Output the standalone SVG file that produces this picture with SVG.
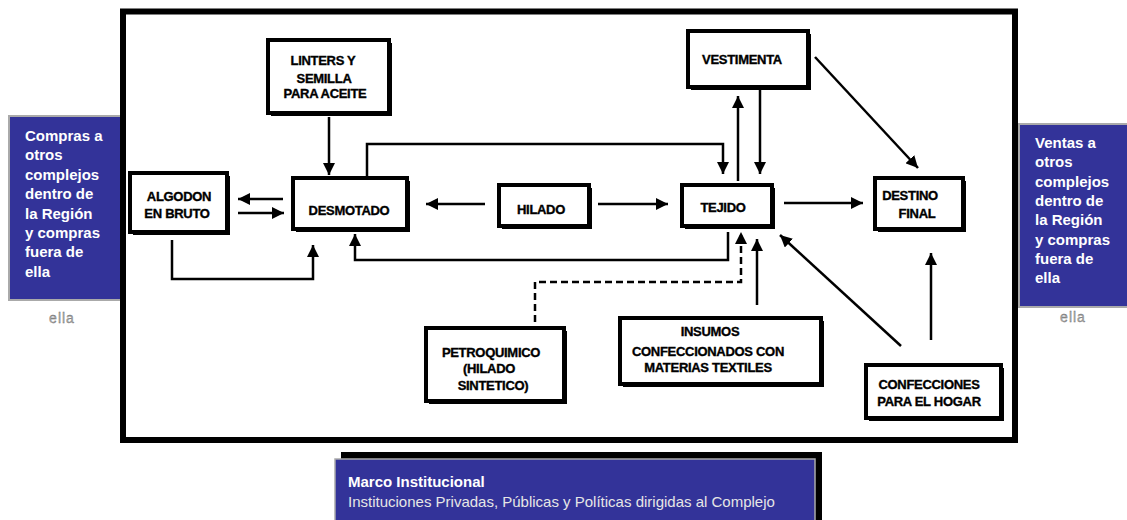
<svg xmlns="http://www.w3.org/2000/svg" width="1127" height="520" viewBox="0 0 1127 520">
<style>
.frame{fill:none;stroke:#000;stroke-width:6}
.sh{fill:#000}
.box{fill:#fff;stroke:#000;stroke-width:4}
.lbl{font-family:"Liberation Sans",Arial,sans-serif;font-weight:bold;font-size:13px;letter-spacing:-0.3px;fill:#000;stroke:#000;stroke-width:0.35;text-anchor:middle}
.side{fill:#333399;stroke:#aaa;stroke-width:2}
.stxt{font-family:"Liberation Sans",Arial,sans-serif;font-weight:bold;font-size:15px;fill:#fff}
.ella{font-family:"Liberation Sans",Arial,sans-serif;font-size:14px;fill:#aaa;stroke:#666;stroke-width:0.3;text-anchor:middle;letter-spacing:1px}
.con{fill:none;stroke:#000;stroke-width:2.5}
.dash{stroke-dasharray:7 4}
</style>
<defs>
<marker id="ah" markerUnits="userSpaceOnUse" viewBox="0 0 12 12" refX="12" refY="6" markerWidth="12" markerHeight="12" orient="auto">
<path d="M0,0 L12,6 L0,12 z" fill="#000"/>
</marker>
</defs>
<rect width="1127" height="520" fill="#fff"/>

<g id="side-left">
<rect class="side" x="9" y="116" width="112" height="184"/>
<text class="stxt" x="25" y="141">Compras a</text>
<text class="stxt" x="25" y="160.4">otros</text>
<text class="stxt" x="25" y="179.8">complejos</text>
<text class="stxt" x="25" y="199.2">dentro de</text>
<text class="stxt" x="25" y="218.6">la Región</text>
<text class="stxt" x="25" y="238">y compras</text>
<text class="stxt" x="25" y="257.4">fuera de</text>
<text class="stxt" x="25" y="276.8">ella</text>
<text class="ella" x="62" y="323">ella</text>
</g>

<g id="side-right">
<rect class="side" x="1019" y="124" width="112" height="183"/>
<text class="stxt" x="1035" y="148">Ventas a</text>
<text class="stxt" x="1035" y="167.3">otros</text>
<text class="stxt" x="1035" y="186.6">complejos</text>
<text class="stxt" x="1035" y="205.9">dentro de</text>
<text class="stxt" x="1035" y="225.2">la Región</text>
<text class="stxt" x="1035" y="244.5">y compras</text>
<text class="stxt" x="1035" y="263.8">fuera de</text>
<text class="stxt" x="1035" y="283.1">ella</text>
<text class="ella" x="1073" y="322">ella</text>
</g>

<g id="frame">
<rect class="frame" x="123" y="11.5" width="892" height="428.5"/>
</g>

<g id="connectors">
<path class="con" d="M329,117 L329,175" marker-end="url(#ah)"/>
<path class="con" d="M367,178 L367,144 L723,144 L723,174" marker-end="url(#ah)"/>
<path class="con" d="M283,199 L238,199" marker-end="url(#ah)"/>
<path class="con" d="M238,213 L284,213" marker-end="url(#ah)"/>
<path class="con" d="M172,240 L172,279 L313,279 L313,245" marker-end="url(#ah)"/>
<path class="con" d="M728,232 L728,260 L355,260 L355,234" marker-end="url(#ah)"/>
<path class="con" d="M485,204 L426,204" marker-end="url(#ah)"/>
<path class="con" d="M598,204 L668,204" marker-end="url(#ah)"/>
<path class="con" d="M738,181 L738,96" marker-end="url(#ah)"/>
<path class="con" d="M760,90 L760,174" marker-end="url(#ah)"/>
<path class="con" d="M815,57 L918,168" marker-end="url(#ah)"/>
<path class="con" d="M784,203 L863,203" marker-end="url(#ah)"/>
<path class="con dash" d="M535,322 L535,282 L741,282 L741,232" marker-end="url(#ah)"/>
<path class="con" d="M757,305 L757,239" marker-end="url(#ah)"/>
<path class="con" d="M901,346 L780,235" marker-end="url(#ah)"/>
<path class="con" d="M931,340 L931,253" marker-end="url(#ah)"/>
</g>

<g id="algodon">
<rect class="sh" x="133" y="176" width="97" height="59"/>
<rect class="box" x="130" y="173" width="97" height="59"/>
<text class="lbl" x="179" y="201">ALGODON</text>
<text class="lbl" x="177" y="218">EN BRUTO</text>
</g>

<g id="desmotado">
<rect class="sh" x="296" y="181" width="114" height="51"/>
<rect class="box" x="293" y="178" width="114" height="51"/>
<text class="lbl" x="349" y="215">DESMOTADO</text>
</g>

<g id="linters">
<rect class="sh" x="271" y="43" width="121" height="73"/>
<rect class="box" x="268" y="40" width="121" height="73"/>
<text class="lbl" x="323" y="65">LINTERS Y</text>
<text class="lbl" x="324" y="83">SEMILLA</text>
<text class="lbl" x="325" y="98">PARA ACEITE</text>
</g>

<g id="hilado">
<rect class="sh" x="502" y="188" width="90" height="41"/>
<rect class="box" x="499" y="185" width="90" height="41"/>
<text class="lbl" x="541" y="214">HILADO</text>
</g>

<g id="tejido">
<rect class="sh" x="685" y="188" width="90" height="41"/>
<rect class="box" x="682" y="185" width="90" height="41"/>
<text class="lbl" x="723" y="212">TEJIDO</text>
</g>

<g id="vestimenta">
<rect class="sh" x="691" y="34" width="120" height="56"/>
<rect class="box" x="688" y="31" width="120" height="56"/>
<text class="lbl" x="742" y="64">VESTIMENTA</text>
</g>

<g id="destino">
<rect class="sh" x="878" y="181" width="88" height="51"/>
<rect class="box" x="875" y="178" width="88" height="51"/>
<text class="lbl" x="910" y="200">DESTINO</text>
<text class="lbl" x="917" y="218">FINAL</text>
</g>

<g id="petroquimico">
<rect class="sh" x="429" y="331" width="138" height="73"/>
<rect class="box" x="426" y="328" width="138" height="73"/>
<text class="lbl" x="491" y="357">PETROQUIMICO</text>
<text class="lbl" x="489" y="373">(HILADO</text>
<text class="lbl" x="493" y="390">SINTETICO)</text>
</g>

<g id="insumos">
<rect class="sh" x="623" y="321" width="201" height="66"/>
<rect class="box" x="620" y="318" width="201" height="66"/>
<text class="lbl" x="710" y="336">INSUMOS</text>
<text class="lbl" x="708" y="356">CONFECCIONADOS CON</text>
<text class="lbl" x="708" y="372">MATERIAS TEXTILES</text>
</g>

<g id="confecciones">
<rect class="sh" x="869" y="368" width="135" height="53"/>
<rect class="box" x="866" y="365" width="135" height="53"/>
<text class="lbl" x="929" y="389">CONFECCIONES</text>
<text class="lbl" x="929" y="406">PARA EL HOGAR</text>
</g>

<g id="marco">
<rect fill="#000" x="341" y="452" width="481" height="75"/>
<rect fill="#333399" stroke="#aaa" stroke-width="1.5" x="335" y="459" width="480" height="70"/>
<text x="348" y="487" font-family="'Liberation Sans',Arial,sans-serif" font-weight="bold" font-size="15" fill="#fff">Marco Institucional</text>
<text x="348" y="507" font-family="'Liberation Sans',Arial,sans-serif" font-size="15" fill="#e6e6e6">Instituciones Privadas, Públicas y Políticas dirigidas al Complejo</text>
</g>
</svg>
